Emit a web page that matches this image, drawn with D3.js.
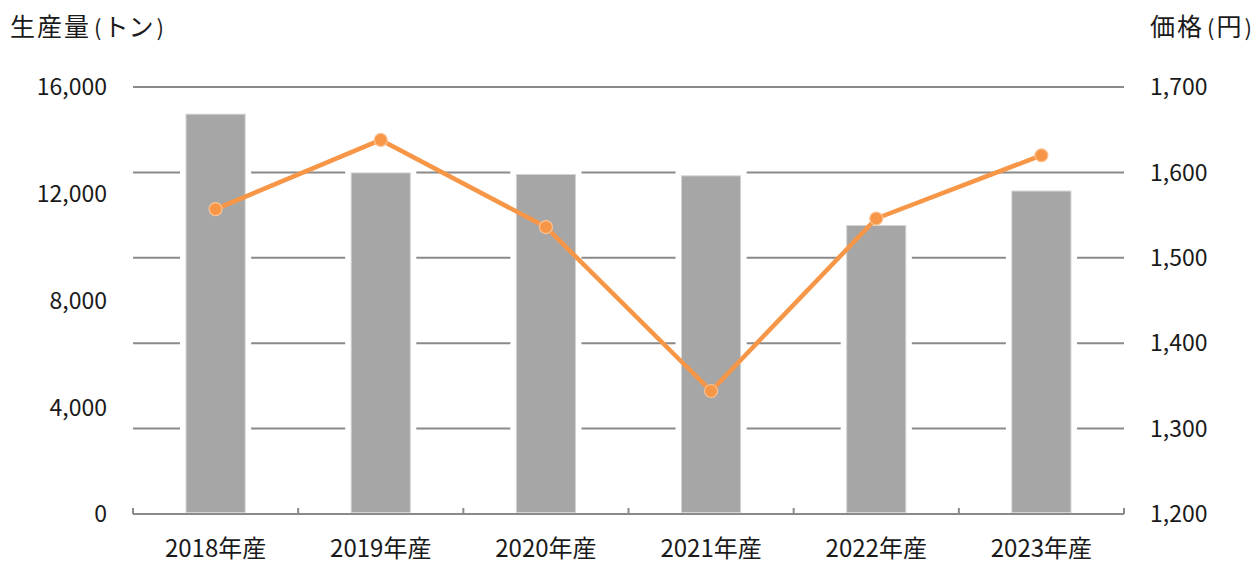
<!DOCTYPE html>
<html><head><meta charset="utf-8">
<script src="https://cdn.jsdelivr.net/npm/d3@7"></script>
<style>
html,body{margin:0;padding:0;background:#fff;}
text{font-family:"Noto Sans CJK JP","Noto Sans",sans-serif;fill:#1a1a1a;font-weight:400;}
</style></head>
<body>
<svg id="chart" width="1260" height="563"></svg>
<script>
const categories = ["2018年産","2019年産","2020年産","2021年産","2022年産","2023年産"];
const production = [15000, 12800, 12740, 12690, 10830, 12120];
const price = [1557, 1638, 1536, 1344, 1546, 1620];
const leftTicks = [0, 4000, 8000, 12000, 16000];
const rightTicks = [1200, 1300, 1400, 1500, 1600, 1700];
const leftTitle = ["生産量", "(", "トン", ")"];
const rightTitle = ["価格", "(", "円", ")"];

const W = 1260, H = 563;
const m = {left:133, right:136, top:87, bottom:49};
const svg = d3.select("#chart");
const x = d3.scaleBand().domain(categories).range([m.left, W-m.right]).paddingInner(0.636).paddingOuter(0.318);
const xb = d3.scaleBand().domain(categories).range([m.left, W-m.right]).padding(0);
const yL = d3.scaleLinear().domain([0,16000]).range([H-m.bottom, m.top]);
const yR = d3.scaleLinear().domain([1200,1700]).range([H-m.bottom, m.top]);
const fs = 23;

// gridlines (from right axis)
svg.append("g").selectAll("line").data(rightTicks.slice(1)).join("line")
  .attr("x1", m.left).attr("x2", W-m.right)
  .attr("y1", d=>yR(d)).attr("y2", d=>yR(d))
  .attr("stroke","#8a8a8a").attr("stroke-width",2);

// white halos behind bars
const gap = 5.5;
svg.append("g").selectAll("rect").data(production).join("rect")
  .attr("x",(d,i)=>x(categories[i])-gap).attr("width",x.bandwidth()+2*gap)
  .attr("y",d=>yL(d)-gap).attr("height",d=>yL(0)-yL(d)+gap-2)
  .attr("fill","#fff");
// bars
svg.append("g").selectAll("rect").data(production).join("rect")
  .attr("x",(d,i)=>x(categories[i])+0.5).attr("width",x.bandwidth()-1)
  .attr("y",d=>yL(d)+0.5).attr("height",d=>yL(0)-yL(d)-2)
  .attr("fill","#a6a6a6").attr("stroke","#d4d4d4").attr("stroke-width",1);

// x axis line + ticks
const ax = svg.append("g");
ax.append("line").attr("x1",m.left).attr("x2",W-m.right).attr("y1",yL(0)).attr("y2",yL(0))
  .attr("stroke","#8a8a8a").attr("stroke-width",2);
const bounds = categories.map(c=>xb(c)).concat([W-m.right]);
ax.selectAll("line.t").data(bounds).join("line").attr("class","t")
  .attr("x1",d=>d).attr("x2",d=>d).attr("y1",yL(0)).attr("y2",yL(0)-6)
  .attr("stroke","#8a8a8a").attr("stroke-width",2);
ax.selectAll("text").data(categories).join("text")
  .attr("x",d=>xb(d)+xb.bandwidth()/2).attr("y",557)
  .attr("text-anchor","middle").attr("font-size",24).text(d=>d);

// left tick labels
svg.append("g").selectAll("text").data(leftTicks).join("text")
  .attr("x",107).attr("y",d=>yL(d)).attr("dy","0.36em")
  .attr("text-anchor","end").attr("font-size",fs).text(d=>d3.format(",")(d));
// right tick labels
svg.append("g").selectAll("text").data(rightTicks).join("text")
  .attr("x",1150).attr("y",d=>yR(d)).attr("dy","0.36em")
  .attr("text-anchor","start").attr("font-size",fs).text(d=>d3.format(",")(d));

// titles
function title(parts, x0){
  const t = svg.append("text").attr("x",x0).attr("y",36).attr("font-size",25);
  parts.forEach((p,i)=>{
    const ts = t.append("tspan").text(p);
    if (p==="(" ) ts.attr("dx",3).attr("font-size",22);
    else if (p===")") ts.attr("dx",3).attr("font-size",22);
    else if (i>0) ts.attr("dx",2);
    if (i===0) ts.attr("letter-spacing",2);
  });
}
title(leftTitle, 10);
title(rightTitle, 1150);

// line
const cx = (d,i)=>xb(categories[i])+xb.bandwidth()/2;
svg.append("path").datum(price)
  .attr("d", d3.line().x(cx).y(d=>yR(d)))
  .attr("fill","none").attr("stroke","#f79646").attr("stroke-width",4.5).attr("stroke-linejoin","round");
svg.append("g").selectAll("circle").data(price).join("circle")
  .attr("cx",cx).attr("cy",d=>yR(d)).attr("r",6.5)
  .attr("fill","#f79646").attr("stroke","#fbc393").attr("stroke-width",1.2);
</script>
</body></html>
